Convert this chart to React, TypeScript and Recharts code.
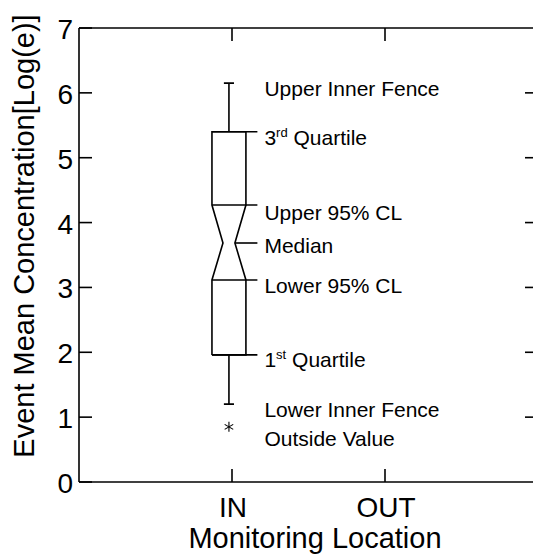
import React from 'react';
import { ComposedChart, XAxis, YAxis, Line, Scatter } from 'recharts';

const categories = ['IN', 'OUT'];
const categoryPos = [1, 2];
const yTicks = [0, 1, 2, 3, 4, 5, 6, 7];
const innerYTicks = [1, 2, 3, 4, 5, 6];

// box plot statistics per monitoring location (OUT has no data)
const upperFence = [6.15, null];
const thirdQuartile = [5.4, null];
const upperCL = [4.27, null];
const median = [3.685, null];
const lowerCL = [3.115, null];
const firstQuartile = [1.96, null];
const lowerFence = [1.2, null];
const outliers = [[0.85], []];

// annotation texts and the level (in data units) of their baselines
const labelTexts = [
  'Upper Inner Fence',
  '3rd Quartile',
  'Upper 95% CL',
  'Median',
  'Lower 95% CL',
  '1st Quartile',
  'Lower Inner Fence',
  'Outside Value',
];
const labelValues = [5.95, 5.2, 4.04, 3.53, 2.91, 1.77, 1.0, 0.555];

const FONT = '"Liberation Sans", Arial, Helvetica, sans-serif';
const BLACK = '#000';
const LW = 1.6;

// geometry of the box, in x-axis units
const BOX_OFFSET = -0.02;
const BOX_HALF = 0.111;
const NOTCH_HALF = 0.039;
const CAP_HALF = 0.033;
const LEADER_END = 0.186;
const LABEL_X = 0.212;

type Pt = { x: number; y: number };
const pts = (arr: number[][]): Pt[] => arr.map(([x, y]) => ({ x, y }));

const series: Pt[][] = [];
const outlierPts: Pt[] = [];
categories.forEach((_, i) => {
  if (median[i] == null) return;
  const c = categoryPos[i] + BOX_OFFSET;
  const h = BOX_HALF;
  const n = NOTCH_HALF;
  const q1 = firstQuartile[i] as number;
  const q3 = thirdQuartile[i] as number;
  const lc = lowerCL[i] as number;
  const uc = upperCL[i] as number;
  const md = median[i] as number;
  const lf = lowerFence[i] as number;
  const uf = upperFence[i] as number;
  const le = c + LEADER_END;
  series.push(
    pts([
      [c - h, q1], [c - h, lc], [c - n, md], [c - h, uc], [c - h, q3],
      [c + h, q3], [c + h, uc], [c + n, md], [c + h, lc], [c + h, q1], [c - h, q1],
    ])
  );
  series.push(pts([[c - h, q3], [le, q3]]));
  series.push(pts([[c - h, uc], [le, uc]]));
  series.push(pts([[c + n, md], [le, md]]));
  series.push(pts([[c - h, lc], [le, lc]]));
  series.push(pts([[c - h, q1], [le, q1]]));
  series.push(pts([[c, q3], [c, uf], [c - CAP_HALF, uf], [c + CAP_HALF, uf]]));
  series.push(pts([[c, q1], [c, lf], [c - CAP_HALF, lf], [c + CAP_HALF, lf]]));
  outliers[i].forEach((v) => outlierPts.push({ x: c, y: v }));
});

const labelPts = labelTexts.map((t, i) => ({
  x: categoryPos[0] + LABEL_X,
  y: labelValues[i],
  text: t,
}));

const LeftTick = (p: any) => (
  <g>
    <line x1={p.x} y1={p.y} x2={p.x + 13} y2={p.y} stroke={BLACK} strokeWidth={LW} />
    <text x={p.x - 6} y={p.y + 11} textAnchor="end" fontSize={28} fontFamily={FONT} fill={BLACK}>
      {p.payload.value}
    </text>
  </g>
);

const RightTick = (p: any) => (
  <line x1={p.x} y1={p.y} x2={p.x - 13} y2={p.y} stroke={BLACK} strokeWidth={LW} />
);

const BottomTick = (p: any) => (
  <g>
    <line x1={p.x} y1={p.y} x2={p.x} y2={p.y - 13} stroke={BLACK} strokeWidth={LW} />
    <text x={p.x + 1} y={p.y + 35} textAnchor="middle" fontSize={28} fontFamily={FONT} fill={BLACK}>
      {categories[categoryPos.indexOf(p.payload.value)]}
    </text>
  </g>
);

const TopTick = (p: any) => (
  <line x1={p.x} y1={p.y} x2={p.x} y2={p.y + 13} stroke={BLACK} strokeWidth={LW} />
);

const Asterisk = (p: any) => {
  const { cx, cy } = p;
  return (
    <g stroke={BLACK} strokeWidth={1.1}>
      <line x1={cx} y1={cy - 5} x2={cx} y2={cy + 5} />
      <line x1={cx - 4.3} y1={cy - 2.5} x2={cx + 4.3} y2={cy + 2.5} />
      <line x1={cx - 4.3} y1={cy + 2.5} x2={cx + 4.3} y2={cy - 2.5} />
    </g>
  );
};

const Annotation = (p: any) => {
  const { cx, cy, payload } = p;
  const m = /^(\d)(st|nd|rd|th) (.*)$/.exec(payload.text);
  return (
    <text x={cx} y={cy} fontSize={21} fontFamily={FONT} fill={BLACK}>
      {m ? (
        <>
          <tspan>{m[1]}</tspan>
          <tspan fontSize={13} dy={-8}>{m[2]}</tspan>
          <tspan dy={8}>{' ' + m[3]}</tspan>
        </>
      ) : (
        payload.text
      )}
    </text>
  );
};

const axisLine = { stroke: BLACK, strokeWidth: LW };

export default function App() {
  return (
    <div
      style={{
        position: 'absolute',
        left: 0,
        top: 0,
        width: 533,
        height: 556,
        overflow: 'hidden',
        background: '#fff',
      }}
    >
      <ComposedChart width={560} height={556} margin={{ top: 0, right: 0, bottom: 0, left: 0 }}>
        <XAxis
          xAxisId="b"
          dataKey="x"
          type="number"
          domain={[0, 3]}
          ticks={categoryPos}
          height={74}
          axisLine={axisLine}
          tickLine={false}
          tickSize={0}
          tickMargin={0}
          tick={<BottomTick />}
          interval={0}
          allowDataOverflow
          label={{
            content: () => (
              <text x={315} y={548} textAnchor="middle" fontSize={29} fontFamily={FONT} fill={BLACK}>
                Monitoring Location
              </text>
            ),
          }}
        />
        <XAxis
          xAxisId="t"
          orientation="top"
          dataKey="x"
          type="number"
          domain={[0, 3]}
          ticks={categoryPos}
          height={28}
          axisLine={axisLine}
          tickLine={false}
          tickSize={0}
          tickMargin={0}
          tick={<TopTick />}
          interval={0}
          allowDataOverflow
        />
        <YAxis
          yAxisId="l"
          type="number"
          domain={[0, 7]}
          ticks={yTicks}
          width={79}
          axisLine={axisLine}
          tickLine={false}
          tickSize={0}
          tickMargin={0}
          tick={<LeftTick />}
          interval={0}
          allowDataOverflow
          label={{
            content: () => (
              <text
                x={34}
                y={236}
                transform="rotate(-90 34 236)"
                textAnchor="middle"
                fontSize={29}
                fontFamily={FONT}
                fill={BLACK}
              >
                Event Mean Concentration[Log(e)]
              </text>
            ),
          }}
        />
        <YAxis
          yAxisId="r"
          orientation="right"
          type="number"
          domain={[0, 7]}
          ticks={innerYTicks}
          width={22}
          axisLine={axisLine}
          tickLine={false}
          tickSize={0}
          tickMargin={0}
          tick={<RightTick />}
          interval={0}
          allowDataOverflow
        />
        {series.map((d, i) => (
          <Line
            key={`s-${i}`}
            xAxisId="b"
            yAxisId="l"
            data={d}
            dataKey="y"
            type="linear"
            stroke={BLACK}
            strokeWidth={LW}
            dot={false}
            activeDot={false}
            isAnimationActive={false}
          />
        ))}
        <Scatter
          xAxisId="b"
          yAxisId="l"
          data={outlierPts}
          dataKey="y"
          shape={<Asterisk />}
          isAnimationActive={false}
        />
        <Scatter
          xAxisId="b"
          yAxisId="l"
          data={labelPts}
          dataKey="y"
          shape={<Annotation />}
          isAnimationActive={false}
        />
      </ComposedChart>
    </div>
  );
}
